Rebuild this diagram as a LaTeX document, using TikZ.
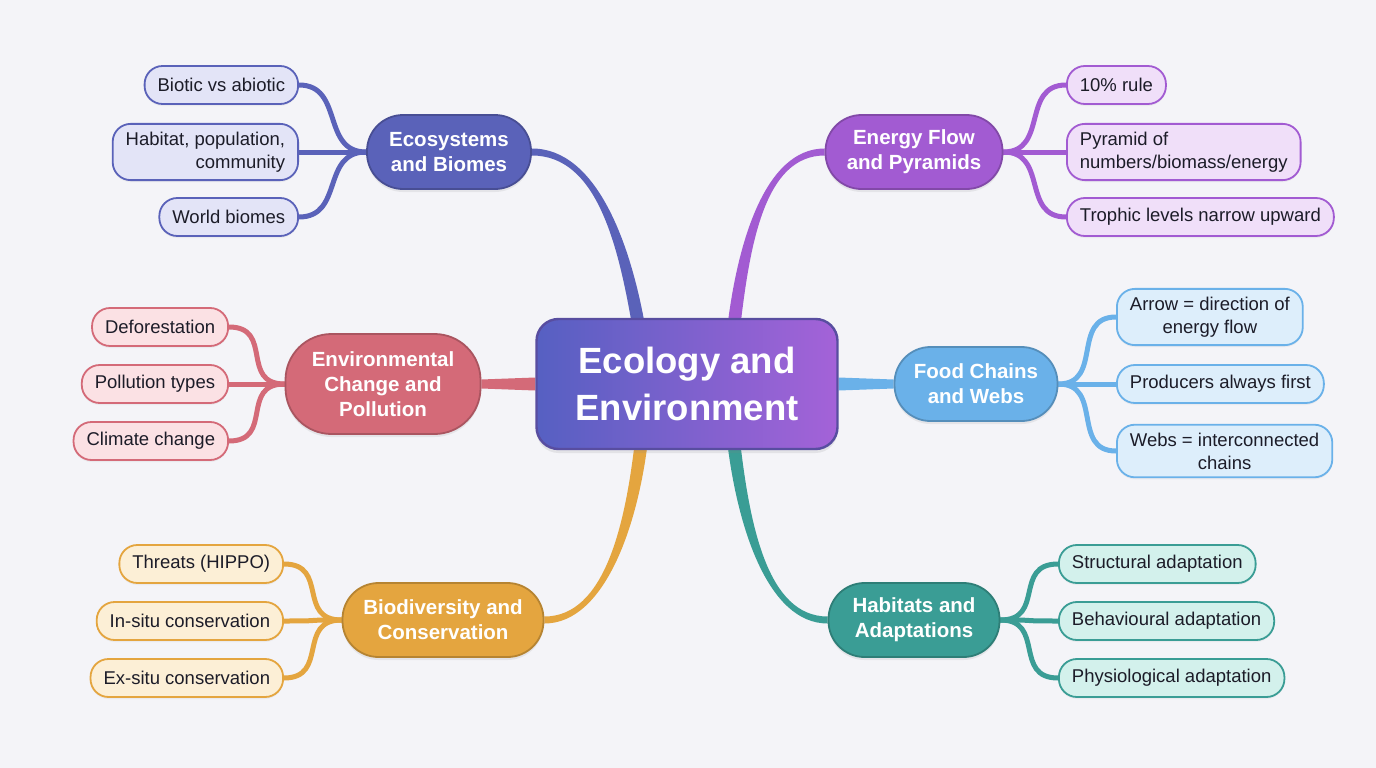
\documentclass[tikz,border=0pt]{standalone}
\usepackage{fontspec}
\setmainfont{Liberation Sans}
\usetikzlibrary{shadows}

\definecolor{paperc}{HTML}{F4F4F8}
\definecolor{inkc}{HTML}{1C1C28}
\definecolor{ecoc}{HTML}{5A62B9}
\definecolor{ecol}{HTML}{E3E4F7}
\definecolor{enec}{HTML}{A25BD2}
\definecolor{enel}{HTML}{F0DFF9}
\definecolor{envc}{HTML}{D46A78}
\definecolor{envl}{HTML}{FBE1E4}
\definecolor{foodc}{HTML}{6AB1E9}
\definecolor{foodl}{HTML}{DDEEFB}
\definecolor{bioc}{HTML}{E4A53F}
\definecolor{biol}{HTML}{FCEFD6}
\definecolor{habc}{HTML}{3A9D95}
\definecolor{habl}{HTML}{D3F1EC}
\definecolor{hubl}{HTML}{5660C2}
\definecolor{hubr}{HTML}{A462D8}

\pgfdeclarelayer{paper}
\pgfdeclarelayer{wires}
\pgfsetlayers{paper,wires,main}

\tikzset{
  hub/.style={draw=hubl!70!hubr!80!black, line width=2.4pt, rounded corners=22pt,
    left color=hubl, right color=hubr, text=white, align=center,
    font=\bfseries\fontsize{36.5}{47}\selectfont, minimum width=301pt, minimum height=130pt,
    inner sep=0pt, drop shadow={shadow xshift=0pt, shadow yshift=-4pt, opacity=0.15}},
  topic/.style={fill=#1, draw=#1!80!black, line width=1.8pt, rounded corners=36pt,
    text=white, align=center, font=\bfseries\fontsize{20.5}{25}\selectfont,
    minimum height=74pt, inner sep=0pt,
    drop shadow={shadow xshift=0pt, shadow yshift=-3pt, opacity=0.13}},
  leaf/.style 2 args={fill=#2, draw=#1, line width=1.8pt, rounded corners=18pt,
    text=inkc, font=\fontsize{18.5}{23}\selectfont, minimum height=38pt,
    inner xsep=13pt, inner ysep=8pt,
    drop shadow={shadow xshift=0pt, shadow yshift=-2pt, opacity=0.08}},
  twig/.style={draw=#1, line width=5pt, line cap=round},
}

\begin{document}
\begin{tikzpicture}[x=1pt,y=-1pt]
\begin{pgfonlayer}{paper}
\fill[paperc] (0,0) rectangle (1376,768);
\end{pgfonlayer}

% centre and main topics
\node[hub] (core) at (687,384) {Ecology and\\Environment};
\node[topic=ecoc, minimum width=164pt] (eco) at (449,152) {Ecosystems\\and Biomes};
\node[topic=enec, minimum width=177pt] (ene) at (914,152) {Energy Flow\\and Pyramids};
\node[topic=envc, minimum width=195pt, minimum height=100pt, rounded corners=46pt] (env) at (383,384) {Environmental\\Change and\\Pollution};
\node[topic=foodc, minimum width=163pt] (food) at (976,384) {Food Chains\\and Webs};
\node[topic=bioc, minimum width=201pt] (bio) at (443,620) {Biodiversity and\\Conservation};
\node[topic=habc, minimum width=171pt] (hab) at (914,620) {Habitats and\\Adaptations};

% leaves, left side
\node[leaf={ecoc}{ecol}, anchor=east] (eco1) at (299,85) {Biotic vs abiotic};
\node[leaf={ecoc}{ecol}, anchor=east, align=right] (eco2) at (299,152) {Habitat, population,\\community};
\node[leaf={ecoc}{ecol}, anchor=east] (eco3) at (299,217) {World biomes};
\node[leaf={envc}{envl}, anchor=east] (env1) at (229,327) {Deforestation};
\node[leaf={envc}{envl}, anchor=east] (env2) at (229,384) {Pollution types};
\node[leaf={envc}{envl}, anchor=east] (env3) at (229,441) {Climate change};
\node[leaf={bioc}{biol}, anchor=east] (bio1) at (284,564) {Threats (HIPPO)};
\node[leaf={bioc}{biol}, anchor=east] (bio2) at (284,621) {In-situ conservation};
\node[leaf={bioc}{biol}, anchor=east] (bio3) at (284,678) {Ex-situ conservation};

% leaves, right side
\node[leaf={enec}{enel}, anchor=west] (ene1) at (1066,85) {10\% rule};
\node[leaf={enec}{enel}, anchor=west, align=left] (ene2) at (1066,152) {Pyramid of\\numbers/biomass/energy};
\node[leaf={enec}{enel}, anchor=west] (ene3) at (1066,217) {Trophic levels narrow upward};
\node[leaf={foodc}{foodl}, anchor=west, align=center] (food1) at (1116,317) {Arrow = direction of\\energy flow};
\node[leaf={foodc}{foodl}, anchor=west] (food2) at (1116,384) {Producers always first};
\node[leaf={foodc}{foodl}, anchor=west, align=center] (food3) at (1116,451) {Webs = interconnected\\chains};
\node[leaf={habc}{habl}, anchor=west] (hab1) at (1058,564) {Structural adaptation};
\node[leaf={habc}{habl}, anchor=west] (hab2) at (1058,621) {Behavioural adaptation};
\node[leaf={habc}{habl}, anchor=west] (hab3) at (1058,678) {Physiological adaptation};

% where the limbs meet the centre
\coordinate (coreNW) at (640,334);
\coordinate (coreNE) at (733,334);
\coordinate (coreSW) at (642,436);
\coordinate (coreSE) at (733,436);

\begin{pgfonlayer}{wires}
% tapered limbs, thin at the topic, wide at the centre
\fill[ecoc] ([yshift=3.5pt]eco.east) .. controls +(65,0) and +(-15,-90) .. ([xshift=6.5pt]coreNW)
  -- ([xshift=-6.5pt]coreNW) .. controls +(-15,-90) and +(65,0) .. ([yshift=-3.5pt]eco.east) -- cycle;
\fill[enec] ([yshift=3.5pt]ene.west) .. controls +(-60,0) and +(10,-90) .. ([xshift=-6.5pt]coreNE)
  -- ([xshift=6.5pt]coreNE) .. controls +(10,-90) and +(-60,0) .. ([yshift=-3.5pt]ene.west) -- cycle;
\fill[bioc] ([yshift=-3.5pt]bio.east) .. controls +(60,0) and +(-10,90) .. ([xshift=6.5pt]coreSW)
  -- ([xshift=-6.5pt]coreSW) .. controls +(-10,90) and +(60,0) .. ([yshift=3.5pt]bio.east) -- cycle;
\fill[habc] ([yshift=-3.5pt]hab.west) .. controls +(-60,0) and +(10,90) .. ([xshift=-6.5pt]coreSE)
  -- ([xshift=6.5pt]coreSE) .. controls +(10,90) and +(-60,0) .. ([yshift=3.5pt]hab.west) -- cycle;
\fill[envc] ([yshift=4.5pt]env.east) -- ([yshift=6.5pt]core.west) -- ([yshift=-6.5pt]core.west) -- ([yshift=-4.5pt]env.east) -- cycle;
\fill[foodc] ([yshift=4.5pt]food.west) -- ([yshift=6.5pt]core.east) -- ([yshift=-6.5pt]core.east) -- ([yshift=-4.5pt]food.west) -- cycle;

\foreach \n in {1,2,3} {
  \draw[twig=ecoc] (eco.west) .. controls +(-45,0) and +(45,0) .. (eco\n.east);
  \draw[twig=envc] (env.west) .. controls +(-45,0) and +(45,0) .. (env\n.east);
  \draw[twig=bioc] (bio.west) .. controls +(-45,0) and +(45,0) .. (bio\n.east);
  \draw[twig=enec] (ene.east) .. controls +(45,0) and +(-45,0) .. (ene\n.west);
  \draw[twig=foodc] (food.east) .. controls +(45,0) and +(-45,0) .. (food\n.west);
  \draw[twig=habc] (hab.east) .. controls +(45,0) and +(-45,0) .. (hab\n.west);
}
\end{pgfonlayer}
\end{tikzpicture}
\end{document}
